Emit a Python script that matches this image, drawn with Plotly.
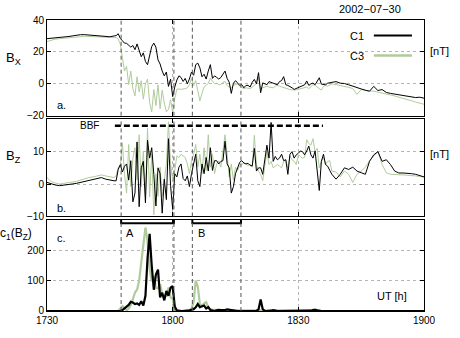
import numpy as np
import plotly.graph_objects as go
from plotly.subplots import make_subplots

# UT in minutes after 17:30; 1 min steps in the quiet parts, 0.5 min in the active part
ut_min = np.concatenate([np.arange(0, 16.5, 1), np.arange(16.5, 68.25, 0.5), np.arange(69, 90.5, 1)])
ut_ticks = [0, 30, 60, 90]
ut_labels = ["1730", "1800", "1830", "1900"]

# panel a: Bx [nT]
bx_c1 = [28.3, 28.5, 28.7, 29, 29.3, 29.6, 30, 30.5, 30.8, 30.8, 30.6, 30.5, 30.3, 29.8, 29.5, 29.5, 30.0,
         30.2, 31.4, 28.5, 27, 25.5, 25.4, 24, 23, 24, 21.4,
         25, 20.5, 17, 19.4, 14, 12, 17, 23.4, 25.5, 23,
         15, 12.4, 8, 5, 7.4, -1.6, 3, -8, -2, 2.4,
         5, 4, 1.5, 3.4, 0, 3, 7.4, 5.4, 12, 13,
         10, 4.4, 6, 3, 8, 12, 3.4, 5, 4, 3,
         4, 6, 8, 3.4, 1, -6, 0.4, 2, 0.5, -1,
         -0.5, -2.5, -1, -1, -2, 1, 2.8, 0, 7, -5.6,
         0.6, 0, -0.6, 1.4, 0.8, 0.4, 0, -0.6, 1.4, 2,
         4.5, -0.6, -1, -1.6, -2.5, -3.5, -3, -2.6, -2, -1.5,
         -0.6, 1.8, -1, 0, 0.5, -0.6, 1.4, 3.8, -0.2, -0.5,
         -0.6, 0.4, 0.6, 1,
         1.4, 0.4, 0.2, -0.6, -1.6, -2.2, -3.2, -4, -4.6, -1.6, -4.2,
         -3.6, -5.4, -6, -6.4, -6.6, -7.2, -7.6, -8.2, -8.6, -8.4, -9]
bx_c3 = [26.5, 27.5, 28, 28.3, 28.6, 29, 29.3, 29.6, 29.8, 29.8, 29.7, 29.5, 29.4, 29.2, 29, 29, 29,
         29, 28, 25, 16, 8, 11, -0.5, 8, -3, -7.6,
         4.4, -5, 2, -9.6, 0, 3, -11.6, -17.6, -3.6, -13.6,
         -0.6, -15.6, -4, -12, -17.6, -16, -10, -18, -9, -3.4,
         -3.2, -3.5, -3.4, -3, -2.6, -0.5, 3.4, -1, 2, -4.5,
         -10.6, -6, -2, -1, 0.4, 3.5, 2, 0, 0.4, -0.5,
         -0.6, 1, 1.5, -1, -2, -2.4, -1, -0.5, 0, -1.5,
         -2.5, -3, -2.5, -2.6, -3, -2, -1, 0, 4, -3,
         -2.5, -2, -1.5, -2, -2.5, -2.5, -1.5, -1, -1.5, -2,
         -2.5, -3, -3.2, -3.6, -3.8, -4, -3.8, -3.5, -3.2, -3,
         -2.6, -2, -3, -2, -0.5, -1, -2, -2.6, -4, -1.5,
         -1, -1.5, -0.8, 0,
         -0.5, -1, -1.6, -2.2, -3, -6.6, -3.6, -4.2, -4.6, -4.6, -5.2,
         -5.6, -6, -6.6, -7.6, -8.4, -9, -9.8, -10.6, -11.4, -12.2, -12.8]

# panel b: Bz [nT]
bz_c1 = [0.5, 0, -0.3, -0.5, -0.4, -0.2, 0, 0.2, 0.5, 0.8, 1.0, 1.2, 1.5, 2, 1.5, 1.2, 1.0,
         1.0, 4.5, 6.0, 3.7, 5.5, 6.2, 1.2, 7.2, -5.5, -2.8,
         13, -7, 5, 7, -5.8, 13.5, 8, 11.2, 3, -6.8,
         5, 3.2, -9, 1.5, -4.8, 14, -0.5, -7.8, 3.2, 2.2,
         5.2, 6.2, 1.7, 1.0, 2.5, -0.8, 3.2, 6.2, 9.2, 1.0,
         -0.8, 6.2, 3.2, 8.2, 4, 11.2, 4.2, 7.2, 7.2, 6.2,
         7.0, 7.2, 13.2, 6.2, 5, -2.8, -0.8, 3.2, 5, 6.7,
         7.2, 6.5, 6.2, 6.4, 5.7, 5.6, 11, 4, 5, 5,
         3, 7, 12, 8, 19, 7, 8.5, 7.5, 8, 9.2,
         7.2, 7.5, 3, 9.2, 10, 8, 9, 9.5, 10.2, 10,
         9, 10.2, 11.7, 9, 8, 10.2, 5, -2, 7, 9.2,
         6, 5.5, 4.2, 3,
         1.5, 3, 5, 4.5, 5.2, 4, 3.5, 3, 7, 9, 10,
         7, 7.5, 6, 4, 3.4, 3.4, 3.4, 3.2, 3, 2.7, 2.2]
bz_c3 = [2, 0.8, 0.3, 0, 0.2, 0.3, 0.6, 0.8, 1.2, 1.7, 2, 2.2, 2.5, 2.8, 2.5, 2.2, 2.0,
         2.5, 5.2, 5.5, 12.7, 3, -2.8, 12.2, -0.8, 8, 11.2,
         1.2, 15.2, -0.8, 10.2, -3.8, 17.2, -4, 9.2, -9.5, 3.2,
         -3.8, 5.2, -3.8, 1.2, 6.2, 19.2, 6.2, 1.2, 4.2, 8.7,
         8.2, 9.2, 8.7, 8.2, 6.2, 3.2, 7.2, 9.2, 12.2, 5.2,
         9.2, 3.2, 11.2, 4.2, 15.2, 5.2, 9.2, 3.2, 6.2, 7.2,
         5.2, 10.2, 15.2, 9.2, 2.2, 6.2, 1.2, 5.2, 4.2, 5.7,
         6.2, 6.5, 6.2, 5.7, 6.2, 5.2, 15, 6, 4, 3,
         1, 5, 10, 6, 7, 5, 5.5, 6, 5.5, 5,
         7, 7.5, 5, 8.7, 7.5, 7, 6, 9, 8.5, 8,
         8.2, 13.7, 12.5, 12, 14, 10, 11, 5, 7, 8.2,
         6, 7, 7.2, 4,
         3.7, 2.2, 4, 3, 0.5, 3, 4, 5.2, 7.2, 8.7, 10,
         6, 3.5, 3, 3, 3, 2.8, 2.7, 2.7, 2.5, 2.3, 2.2]

# panel c: c1(Bz)
c1_c1 = [0] * 17 + [
         0, 0, 0, 3, 8, 13, 20, 30, 28, 23,
         25, 20, 32, 18, 50, 173, 254, 150, 70, 120,
         136, 45, 60, 35, 66, 50, 77, 82, 15, 2,
         0, 0, 0, 0, 1, 2, 4, 6, 12, 23,
         13, 16, 18, 8, 13, 3, 1, 0, 2, 4,
         3, 2, 3, 5, 4, 2, 0, 1, 0, 0,
         0, 0, 0, 0, 0, 0, 0, 0, 5, 38,
         6, 0, 0, 0, 1, 3, 1, 0, 0, 0,
         0, 0, 0, 0, 0, 0, 0, 0, 0, 0,
         0, 0, 0, 1, 3, 4, 2, 0, 0, 0,
         0, 0, 0, 0] + [0] * 22
c1_c3 = [0] * 17 + [
         0, 0, 8, 16, 9, 2, 8, 20, 38, 61,
         70, 100, 160, 216, 275, 230, 140, 98, 115, 75,
         75, 88, 56, 50, 50, 77, 45, 40, 4, 0,
         0, 0, 0, 0, 0, 2, 8, 30, 100, 80,
         23, 18, 25, 29, 10, 6, 4, 4, 3, 3,
         3, 3, 2, 2, 2, 2, 2, 1, 1, 0,
         0, 0, 0, 0, 0, 0, 0, 0, 1, 2,
         1, 0, 0, 0, 1, 2, 1, 0, 0, 0,
         0, 0, 0, 0, 0, 0, 0, 0, 0, 0,
         0, 0, 0, 2, 4, 5, 3, 1, 0, 0,
         0, 0, 0, 0] + [0] * 22

for s in (bx_c1, bx_c3, bz_c1, bz_c3, c1_c1, c1_c3):
    assert len(s) == len(ut_min), len(s)

# intervals A and B, BBF period (minutes after 17:30)
interval_names = ["A", "B"]
interval_start = [17.7, 34.7]
interval_end = [30.3, 46.3]
bbf_start, bbf_end, bbf_level = 16.2, 65.9, 18

C1_COLOR = "#000000"
C3_COLOR = "#b0cb9b"
FONT = "Liberation Sans, Arial, sans-serif"

fig = make_subplots(rows=3, cols=1, shared_xaxes=True)

panels = [(bx_c3, bx_c1, 1, 1.0), (bz_c3, bz_c1, 2, 1.0), (c1_c3, c1_c1, 3, 2.2)]
for green, black, row, width in panels:
    fig.add_trace(go.Scatter(x=ut_min, y=green, mode="lines", line=dict(color=C3_COLOR, width=width),
                             showlegend=False), row=row, col=1)
    fig.add_trace(go.Scatter(x=ut_min, y=black, mode="lines", line=dict(color=C1_COLOR, width=width),
                             showlegend=False), row=row, col=1)

# BBF dashed bar
fig.add_trace(go.Scatter(x=[bbf_start, bbf_end], y=[bbf_level, bbf_level], mode="lines",
                         line=dict(color="black", width=2.5, dash="6px,3px"), showlegend=False), row=2, col=1)

# interval brackets and boundaries
for name, s, e in zip(interval_names, interval_start, interval_end):
    fig.add_trace(go.Scatter(x=[s, s, e, e], y=[300, 289, 289, 300], mode="lines",
                             line=dict(color="black", width=2), showlegend=False), row=3, col=1)
    for xv in (s, e):
        for row in (1, 2, 3):
            fig.add_vline(x=xv, line=dict(color="#555555", width=1, dash="4px,3px"), row=row, col=1)

axis_style = dict(showline=True, linecolor="black", linewidth=1, mirror="ticks", ticks="inside",
                  ticklen=4, tickcolor="black", showgrid=True, gridcolor="#b5b5b5", griddash="dot",
                  gridwidth=1, zeroline=False, tickfont=dict(family=FONT, size=10, color="black"))

for row in (1, 2, 3):
    fig.update_xaxes(axis_style, range=[0, 90], tickvals=ut_ticks, ticktext=ut_labels, row=row, col=1)
fig.update_yaxes(axis_style, range=[-20, 40], tickvals=[-20, 0, 20, 40], domain=[0.671, 1.0], row=1, col=1)
fig.update_yaxes(axis_style, range=[-10, 20], tickvals=[-10, 0, 10], domain=[0.325, 0.659], row=2, col=1)
fig.update_yaxes(axis_style, range=[0, 300], tickvals=[0, 100, 200], domain=[0.0, 0.313], row=3, col=1)

def note(text, x, y, size=11, xanchor="center"):
    fig.add_annotation(text=text, x=x, y=y, xref="paper", yref="paper", showarrow=False,
                       xanchor=xanchor, yanchor="middle", font=dict(family=FONT, size=size, color="black"))

note("2002−07−30", 0.858, 1.037)
note("B<sub>X</sub>", -0.088, 0.868, size=13)
note("B<sub>Z</sub>", -0.088, 0.532, size=13)
note("c<sub>1</sub>(B<sub>Z</sub>)", -0.082, 0.266, size=12)
note("[nT]", 1.0424, 0.893)
note("[nT]", 1.0424, 0.538)
note("a.", 0.0212, 0.709, xanchor="left")
note("b.", 0.0212, 0.3545, xanchor="left")
note("c.", 0.0212, 0.251, xanchor="left")
note("A", 0.219, 0.269)
note("B", 0.41, 0.269)
note("UT [h]", 0.915, 0.052)
note("BBF", 0.1127, 0.639, size=10)
note("C1", 0.798, 0.9465, xanchor="left")
note("C3", 0.798, 0.878, xanchor="left")

# hand-made legend lines
fig.add_shape(type="line", xref="paper", yref="paper", x0=0.867, x1=0.968, y0=0.9465, y1=0.9465,
              line=dict(color=C1_COLOR, width=2))
fig.add_shape(type="line", xref="paper", yref="paper", x0=0.867, x1=0.968, y0=0.878, y1=0.878,
              line=dict(color=C3_COLOR, width=2.5))

fig.update_layout(width=460, height=338, margin=dict(l=47, r=36, t=20, b=19),
                  paper_bgcolor="white", plot_bgcolor="white", showlegend=False,
                  font=dict(family=FONT, size=10, color="black"))

# drop the browser's default 8px body margin so the figure sits at the page corner
fig.write_html("out.html", config={"displayModeBar": False},
               post_script="document.body.style.margin='0';document.body.style.overflow='hidden';")
